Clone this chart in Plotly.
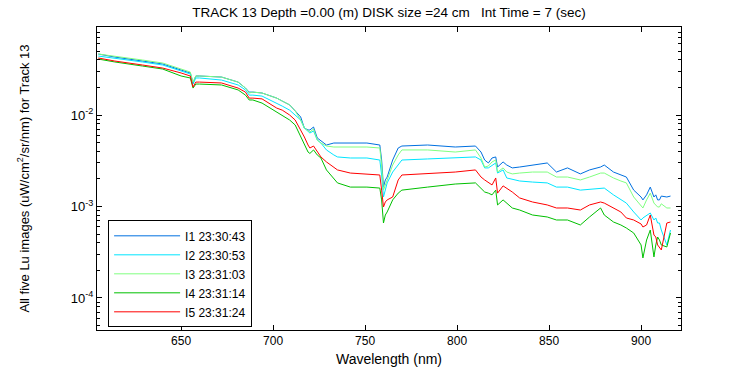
import plotly.graph_objects as go

wavelength = [605, 614, 629, 640, 650, 655, 656.5, 658, 660, 672, 681, 685, 687, 689, 694,
              702, 705, 709, 712, 715, 717, 719, 720, 722, 724, 726, 729, 733, 735, 742,
              751, 758, 759, 760, 761, 762, 765, 768, 770, 784, 799, 810, 813, 815, 817,
              819, 821, 822, 825, 827, 830, 834, 841, 849, 854, 860, 867, 872, 878, 880,
              885, 889, 892, 896, 900, 901, 903, 905, 907, 908, 909, 910, 911, 914, 916]

i1 = [0.0464, 0.0430, 0.0389, 0.0361, 0.0310, 0.0288, 0.0224, 0.0267, 0.0267, 0.0260, 0.0229, 0.0197, 0.0178, 0.0178, 0.0174,
      0.0153, 0.0142, 0.0129, 0.0111, 0.00951, 0.00721, 0.00686, 0.00686, 0.00739, 0.00561, 0.00520, 0.00470, 0.00494, 0.00494, 0.00494,
      0.00494, 0.00470, 0.00322, 0.00163, 0.00195, 0.00210, 0.00322, 0.00436, 0.00458, 0.00470, 0.00447, 0.00458, 0.00394, 0.00322, 0.00299,
      0.00339, 0.00348, 0.00270, 0.00307, 0.00284, 0.00264, 0.00270, 0.00284, 0.00299, 0.00238, 0.00264, 0.00227, 0.00251, 0.00270, 0.00284,
      0.00238, 0.00221, 0.00210, 0.00151, 0.00127, 0.00118, 0.00134, 0.00163, 0.00127, 0.00134, 0.00118, 0.00118, 0.00130, 0.00127, 0.00130]

i2 = [0.0441, 0.0420, 0.0380, 0.0352, 0.0303, 0.0281, 0.0218, 0.0254, 0.0254, 0.0241, 0.0213, 0.0188, 0.0165, 0.0165, 0.0161,
      0.0135, 0.0125, 0.0113, 0.0100, 0.00882, 0.00721, 0.00652, 0.00636, 0.00669, 0.00533, 0.00494, 0.00415, 0.00366, 0.00348, 0.00339,
      0.00339, 0.00322, 0.00221, 0.00127, 0.00151, 0.00181, 0.00238, 0.00284, 0.00322, 0.00331, 0.00339, 0.00348, 0.00322, 0.00264, 0.00264,
      0.00284, 0.00299, 0.00232, 0.00251, 0.00205, 0.00200, 0.00190, 0.00185, 0.00181, 0.00163, 0.00163, 0.00151, 0.00155, 0.00159, 0.00159,
      0.00134, 0.00118, 0.00109, 0.000871, 0.000712, 0.000749, 0.000807, 0.000849, 0.000712, 0.000749, 0.000660, 0.000660, 0.000553, 0.000380, 0.000553]

i3 = [0.0464, 0.0441, 0.0399, 0.0370, 0.0318, 0.0295, 0.0229, 0.0267, 0.0267, 0.0260, 0.0229, 0.0197, 0.0174, 0.0178, 0.0174,
      0.0153, 0.0142, 0.0129, 0.0111, 0.00882, 0.00721, 0.00669, 0.00652, 0.00703, 0.00533, 0.00494, 0.00458, 0.00447, 0.00447, 0.00447,
      0.00447, 0.00436, 0.00284, 0.00151, 0.00172, 0.00195, 0.00284, 0.00366, 0.00415, 0.00415, 0.00394, 0.00415, 0.00339, 0.00270, 0.00277,
      0.00307, 0.00322, 0.00238, 0.00264, 0.00238, 0.00227, 0.00232, 0.00238, 0.00238, 0.00210, 0.00210, 0.00195, 0.00210, 0.00232, 0.00232,
      0.00205, 0.00190, 0.00181, 0.00127, 0.00104, 0.000963, 0.00118, 0.00140, 0.00109, 0.00104, 0.000988, 0.000988, 0.00107, 0.000963, 0.000963]

i4 = [0.0409, 0.0380, 0.0343, 0.0318, 0.0267, 0.0254, 0.0197, 0.0218, 0.0218, 0.0213, 0.0188, 0.0165, 0.0146, 0.0146, 0.0135,
      0.0108, 0.0100, 0.00882, 0.00778, 0.00575, 0.00470, 0.00394, 0.00380, 0.00415, 0.00366, 0.00339, 0.00251, 0.00205, 0.00181, 0.00163,
      0.00163, 0.00159, 0.00118, 0.000660, 0.000807, 0.000871, 0.00118, 0.00140, 0.00151, 0.00163, 0.00176, 0.00181, 0.00159, 0.00144, 0.00140,
      0.00134, 0.00151, 0.00104, 0.00118, 0.00109, 0.000963, 0.000915, 0.000807, 0.000768, 0.000712, 0.000712, 0.000628, 0.000768, 0.000963, 0.000807,
      0.000677, 0.000628, 0.000582, 0.000513, 0.000380, 0.000274, 0.000430, 0.000553, 0.000281, 0.000380, 0.000464, 0.000430, 0.000380, 0.000361, 0.000513]

i5 = [0.0420, 0.0389, 0.0352, 0.0326, 0.0288, 0.0267, 0.0202, 0.0229, 0.0229, 0.0224, 0.0197, 0.0178, 0.0153, 0.0153, 0.0150,
      0.0119, 0.0113, 0.0100, 0.00882, 0.00686, 0.00575, 0.00470, 0.00436, 0.00458, 0.00394, 0.00348, 0.00307, 0.00270, 0.00251, 0.00232,
      0.00227, 0.00221, 0.00151, 0.000988, 0.00112, 0.00118, 0.00127, 0.00195, 0.00221, 0.00227, 0.00238, 0.00251, 0.00210, 0.00195, 0.00181,
      0.00172, 0.00205, 0.00140, 0.00168, 0.00159, 0.00144, 0.00124, 0.00112, 0.00104, 0.000963, 0.000963, 0.000915, 0.00104, 0.00112, 0.00109,
      0.000963, 0.000871, 0.000749, 0.000712, 0.000644, 0.000597, 0.000628, 0.000807, 0.000488, 0.000464, 0.000380, 0.000352, 0.000335, 0.000660, 0.000677]

series_names = ["I1 23:30:43", "I2 23:30:53", "I3 23:31:03", "I4 23:31:14", "I5 23:31:24"]
series_colors = ["#0070E0", "#00E5FF", "#80FF80", "#00C000", "#FF0000"]
series_values = [i1, i2, i3, i4, i5]

y_major = [1e-4, 1e-3, 1e-2]
y_major_text = ["10<sup>-4</sup>", "10<sup>-3</sup>", "10<sup>-2</sup>"]
y_minor = [m * 10.0 ** e for e in range(-5, -1) for m in range(2, 10)]
x_ticks = [650, 700, 750, 800, 850, 900]

FONT = "Liberation Sans, Arial, sans-serif"

fig = go.Figure()
for name, color, vals in zip(series_names, series_colors, series_values):
    fig.add_trace(go.Scatter(x=wavelength, y=vals, mode="lines", name=name,
                             line=dict(color=color, width=1)))

fig.update_layout(
    width=750, height=375,
    margin=dict(l=97, r=69, t=27, b=45, autoexpand=False),
    paper_bgcolor="white", plot_bgcolor="white",
    font=dict(family=FONT, size=12, color="black"),
    title=dict(text="TRACK 13 Depth =0.00 (m) DISK size =24 cm\u00a0\u00a0\u00a0Int Time = 7 (sec)",
               x=(97 + 292) / 750, xanchor="center", y=1 - 12 / 375, yanchor="middle",
               font=dict(family=FONT, size=13.5, color="black")),
    legend=dict(x=0.019, y=0.362, xanchor="left", yanchor="top", traceorder="normal",
                bgcolor="white", bordercolor="black", borderwidth=1,
                font=dict(family=FONT, size=12, color="black"),
                tracegroupgap=0, itemwidth=66),
    xaxis=dict(range=[604.3, 921.7], tickvals=x_ticks, ticks="inside", ticklen=5,
               tickcolor="black", showline=True, linecolor="black", linewidth=1,
               mirror="ticks", showgrid=False, zeroline=False, automargin=False,
               tickfont=dict(family=FONT, size=12),
               title=dict(text="Wavelength (nm)", standoff=6,
                          font=dict(family=FONT, size=14))),
    yaxis=dict(type="log", range=[-4.35, -1.038], tickmode="array",
               tickvals=y_major, ticktext=y_major_text, ticks="inside", ticklen=5,
               tickcolor="black", showline=True, linecolor="black", linewidth=1,
               mirror="ticks", showgrid=False, zeroline=False, automargin=False,
               tickfont=dict(family=FONT, size=13),
               minor=dict(tickmode="array", tickvals=y_minor, ticks="inside",
                          ticklen=3, tickcolor="black", showgrid=False),
               title=dict(text="All five Lu images (uW/cm<sup>2</sup>/sr/nm) for Track 13",
                          standoff=38, font=dict(family=FONT, size=13))),
)

fig.write_html("out.html", config={"displayModeBar": False},
               post_script="document.body.style.margin='0px';")
